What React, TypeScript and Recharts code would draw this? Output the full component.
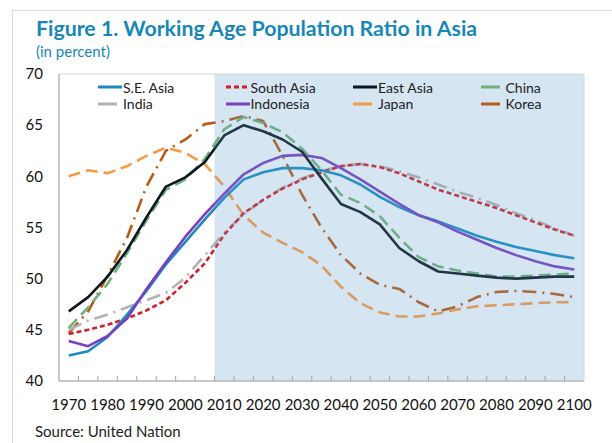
import React from "react";
import { LineChart, Line, XAxis, YAxis, ReferenceArea, ReferenceLine } from "recharts";

const years = [
  1970, 1975, 1980, 1985, 1990, 1995, 2000, 2005, 2010, 2015, 2020, 2025, 2030, 2035,
  2040, 2045, 2050, 2055, 2060, 2065, 2070, 2075, 2080, 2085, 2090, 2095, 2100,
];
const seAsia = [42.5, 42.9, 44.3, 46.5, 48.8, 51.4, 53.6, 55.8, 57.9, 59.7, 60.4, 60.8, 60.8, 60.6, 60.1, 59.2, 58.0, 57.0, 56.2, 55.6, 54.9, 54.2, 53.6, 53.1, 52.7, 52.3, 52.0];
const southAsia = [44.6, 45.0, 45.5, 46.1, 46.9, 47.9, 49.6, 51.5, 54.3, 56.4, 57.7, 58.8, 59.7, 60.4, 61.0, 61.2, 60.9, 60.3, 59.5, 58.7, 58.1, 57.5, 56.9, 56.2, 55.5, 54.8, 54.2];
const eastAsia = [46.8, 48.2, 50.2, 52.8, 56.0, 59.0, 59.9, 61.4, 64.0, 65.0, 64.4, 63.6, 62.4, 59.8, 57.3, 56.5, 55.3, 53.0, 51.7, 50.7, 50.5, 50.3, 50.1, 50.0, 50.1, 50.2, 50.2];
const china = [45.2, 47.2, 49.5, 52.5, 55.7, 58.7, 59.7, 61.7, 64.6, 65.8, 65.2, 64.3, 62.7, 60.6, 58.2, 57.4, 56.1, 54.0, 52.1, 51.2, 50.8, 50.5, 50.2, 50.2, 50.3, 50.4, 50.5];
const india = [45.0, 45.9, 46.5, 47.2, 47.9, 48.6, 50.1, 52.3, 54.5, 56.3, 57.7, 58.9, 59.8, 60.5, 61.0, 61.2, 61.0, 60.5, 59.9, 59.2, 58.5, 57.9, 57.2, 56.4, 55.7, 54.9, 54.2];
const indonesia = [43.9, 43.4, 44.4, 46.1, 49.0, 51.6, 54.1, 56.3, 58.3, 60.2, 61.3, 62.0, 62.1, 61.8, 60.8, 59.7, 58.5, 57.3, 56.2, 55.5, 54.6, 53.8, 53.0, 52.3, 51.7, 51.2, 50.9];
const japan = [60.0, 60.6, 60.3, 61.0, 62.0, 62.8, 62.3, 61.2, 59.0, 56.2, 54.5, 53.5, 52.6, 51.3, 49.2, 47.6, 46.7, 46.3, 46.3, 46.6, 47.0, 47.3, 47.4, 47.5, 47.6, 47.7, 47.7];
const korea = [44.7, 46.8, 50.3, 54.0, 59.0, 62.5, 63.6, 65.1, 65.4, 65.9, 65.4, 62.0, 58.2, 55.0, 52.3, 50.5, 49.4, 49.0, 47.7, 46.8, 47.3, 48.2, 48.7, 48.8, 48.7, 48.5, 48.2];

const yTicks = [40, 45, 50, 55, 60, 65, 70];
const xTicks = [1970, 1980, 1990, 2000, 2010, 2020, 2030, 2040, 2050, 2060, 2070, 2080, 2090, 2100];
const minorTicks = [1972.5, 1977.5, 1982.5, 1987.5, 1992.5, 1997.5, 2002.5, 2007.5, 2012.5, 2017.5, 2022.5, 2027.5, 2032.5, 2037.5, 2042.5, 2047.5, 2052.5, 2057.5, 2062.5, 2067.5, 2072.5, 2077.5, 2082.5, 2087.5, 2092.5, 2097.5];

// legend order: row 1 then row 2
const series = [
  { key: "seAsia", name: "S.E. Asia", values: seAsia, color: "#1a8bc0", dash: undefined, legendDash: undefined, short: false },
  { key: "southAsia", name: "South Asia", values: southAsia, color: "#d41f2a", dash: "5 3", legendDash: "5 3", short: false },
  { key: "eastAsia", name: "East Asia", values: eastAsia, color: "#0d1820", dash: undefined, legendDash: undefined, short: false },
  { key: "china", name: "China", values: china, color: "#6fb17c", dash: "12 6", legendDash: undefined, short: true },
  { key: "india", name: "India", values: india, color: "#b3b3b3", dash: "14 6 2 6", legendDash: undefined, short: true },
  { key: "indonesia", name: "Indonesia", values: indonesia, color: "#7a3ec2", dash: undefined, legendDash: undefined, short: false },
  { key: "japan", name: "Japan", values: japan, color: "#f79a46", dash: "12 6", legendDash: undefined, short: true },
  { key: "korea", name: "Korea", values: korea, color: "#b85a18", dash: "14 6 2 6", legendDash: undefined, short: true },
];

// draw order (back to front)
const drawOrder = ["japan", "korea", "india", "southAsia", "seAsia", "indonesia", "china", "eastAsia"];

const data = years.map((year, i) => {
  const row: Record<string, number> = { year };
  series.forEach((s) => {
    row[s.key] = s.values[i];
  });
  return row;
});

const FONT = "Lato, 'Open Sans', sans-serif";

const LegendBox = () => (
  <div
    style={{
      position: "absolute",
      left: 97,
      top: 79,
      width: 520,
      display: "grid",
      gridTemplateColumns: "127.5px 127.5px 127.5px 127.5px",
      fontFamily: FONT,
      fontSize: 14,
      color: "#222",
    }}
  >
    {series.map((s) => (
      <div key={s.key} style={{ display: "flex", alignItems: "center", height: 16.5 }}>
        <svg width={26} height={10}>
          <line x1={1} y1={5} x2={s.short ? 20 : 25} y2={5} stroke={s.color} strokeWidth={3} strokeDasharray={s.legendDash} />
        </svg>
        <span>{s.name}</span>
      </div>
    ))}
  </div>
);

const App = () => {
  return (
    <div style={{ position: "absolute", left: 0, top: 0, width: 612, height: 443, background: "#fff", overflow: "hidden" }}>
      <div style={{ position: "absolute", left: 12, top: 10, width: 640, height: 460, border: "1px solid #d9d9d9" }} />
      <div
        style={{
          position: "absolute",
          left: 36,
          top: 18,
          fontFamily: FONT,
          fontWeight: 700,
          fontSize: 21.3,
          lineHeight: "21px",
          color: "#1787b7",
          whiteSpace: "nowrap",
        }}
      >
        Figure 1. Working Age Population Ratio in Asia
      </div>
      <div
        style={{
          position: "absolute",
          left: 36,
          top: 44,
          fontFamily: FONT,
          fontSize: 15,
          lineHeight: "15px",
          color: "#1787b7",
        }}
      >
        (in percent)
      </div>
      <LineChart width={612} height={443} data={data} margin={{ top: 74, right: 28, bottom: 32, left: 19 }}>
        <ReferenceArea x1={2007.5} x2={2102.5} y1={40} y2={70} fill="#e9f2f7" stroke="none" ifOverflow="visible" />
        <XAxis
          dataKey="year"
          type="number"
          domain={[1967.5, 2102.5]}
          ticks={xTicks}
          tickLine={false}
          height={30}
          tickMargin={12}
          axisLine={{ stroke: "#a6a6a6" }}
          tick={{ fill: "#111", fontSize: 15, fontFamily: FONT }}
        />
        <YAxis
          type="number"
          domain={[40, 70]}
          ticks={yTicks}
          width={40}
          tickLine={false}
          tickMargin={10}
          axisLine={{ stroke: "#a6a6a6" }}
          tick={{ fill: "#111", fontSize: 15, fontFamily: FONT }}
        />
        {drawOrder.map((k) => {
          const s = series.find((x) => x.key === k)!;
          return (
            <Line
              key={s.key}
              dataKey={s.key}
              name={s.name}
              stroke={s.color}
              strokeWidth={2.6}
              strokeDasharray={s.dash}
              dot={false}
              activeDot={false}
              type="linear"
              strokeLinejoin="round"
              isAnimationActive={false}
            />
          );
        })}
        <ReferenceArea
          x1={2007.5}
          x2={2102.5}
          y1={40}
          y2={70}
          fill="#6aa6cf"
          fillOpacity={0.22}
          stroke="none"
          ifOverflow="visible"
          zIndex={450}
        />
        <ReferenceArea x1={1967.5} x2={2102.5} y1={40} y2={70} fill="none" stroke="#d0d8de" ifOverflow="visible" zIndex={460} />
        {minorTicks.map((t) => (
          <ReferenceLine
            key={t}
            segment={[
              { x: t, y: 40 },
              { x: t, y: 40.5 },
            ]}
            stroke="#a6a6a6"
            ifOverflow="visible"
            zIndex={470}
          />
        ))}
      </LineChart>
      <LegendBox />
      <div
        style={{
          position: "absolute",
          left: 35,
          top: 424,
          fontFamily: FONT,
          fontSize: 15,
          lineHeight: "15px",
          color: "#222",
        }}
      >
        Source: United Nation
      </div>
    </div>
  );
};

export default App;
